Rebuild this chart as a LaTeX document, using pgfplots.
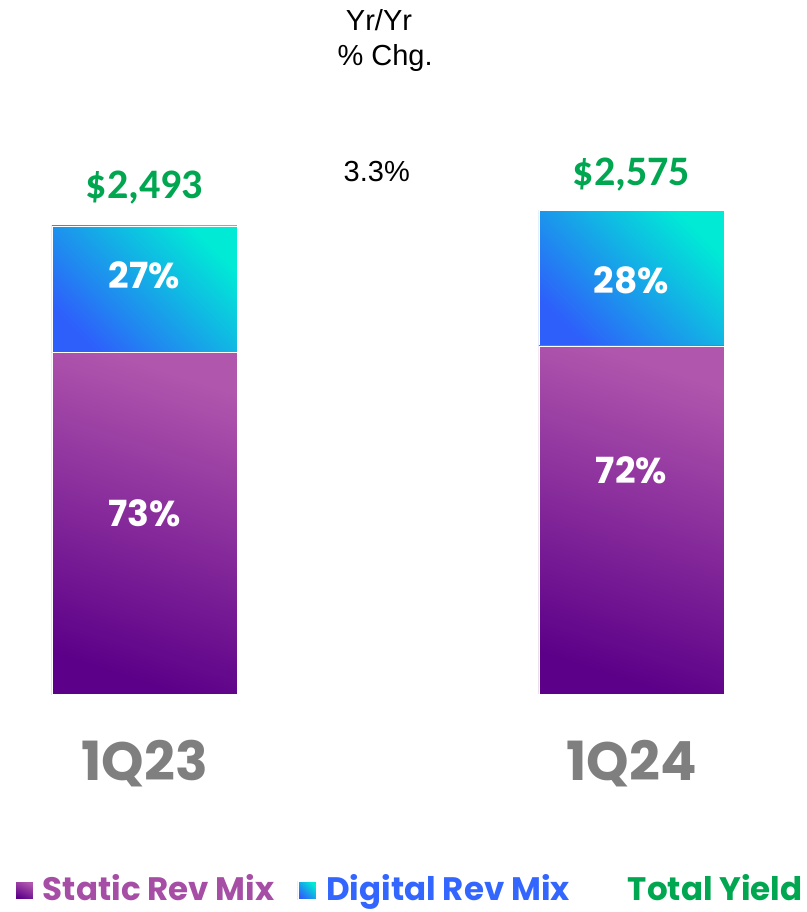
\documentclass[border=0pt]{standalone}
\usepackage{pgfplots}
\pgfplotsset{compat=1.18}
\usepackage{fontspec}
\setmainfont{Poppins}
\newfontfamily\arialf{Liberation Sans}
\newfontfamily\carlf{Carlito}
\definecolor{statD}{HTML}{5C0089}
\definecolor{statL}{HTML}{B156AD}
\definecolor{digD}{HTML}{2E5FFB}
\definecolor{digL}{HTML}{00EAD6}
\definecolor{statTxt}{HTML}{A64DA6}
\definecolor{digTxt}{HTML}{3366FF}
\definecolor{grn}{HTML}{00A650}
\definecolor{gryT}{HTML}{7F7F7F}
\pgfplotsset{
  base/.style={
    at={(0,0)}, anchor=south west, scale only axis,
    width=807bp, height=694bp,
    xmin=-0.2967, xmax=1.3604, ymin=0, ymax=3696.8,
    ybar stacked, bar width=185bp,
    axis line style={draw=none}, major tick length=0pt, ytick=\empty,
    clip=false},
  statstyle/.style={draw=white, line width=0.8pt, bottom color=statD, top color=statL, shading angle=-18},
  digstyle/.style={draw=white, line width=0.8pt, bottom color=digD, top color=digL, shading angle=-45},
}
\begin{document}
\begin{tikzpicture}
\path[use as bounding box] (0,-218bp) rectangle (807bp,694bp);
\begin{axis}[base,
  xtick={0,1}, xticklabels={1Q23,1Q24},
  xticklabel style={font=\fontsize{54bp}{54bp}\selectfont\bfseries, text=gryT, yshift=-43bp},
  legend columns=3,
  legend style={draw=none, fill=none, at={(0.0149,-0.2805)}, anchor=west,
    font=\fontsize{32.5bp}{32.5bp}\selectfont\bfseries,
    /tikz/every even column/.append style={column sep=21bp}},
]
\addplot[statstyle,
  legend image code/.code={\shade[bottom color=statD, top color=statL, shading angle=-25] (0bp,-11bp) rectangle (18bp,7bp);}]
  coordinates {(0,1820)};
\addlegendentry{\hspace*{7bp}\textcolor{statTxt}{Static Rev Mix}}
\addplot[digstyle,
  legend image code/.code={\shade[bottom color=digD, top color=digL, shading angle=-45] (0bp,-11bp) rectangle (18bp,7bp);}]
  coordinates {(0,673)};
\addlegendentry{\hspace*{8bp}\textcolor{digTxt}{Digital Rev Mix}}
\addlegendimage{empty legend}
\addlegendentry{\hspace*{33bp}\textcolor{grn}{Total Yield}}
\coordinate (t1) at (axis cs:0,2493);
\coordinate (t2) at (axis cs:1,2575);
\coordinate (p1) at (axis cs:0,2232);
\coordinate (p2) at (axis cs:0,964);
\coordinate (p3) at (axis cs:1,2205);
\coordinate (p4) at (axis cs:1,1193);
\coordinate (y1) at (axis cs:0.4815,3590);
\coordinate (y2) at (axis cs:0.494,3388);
\coordinate (y3) at (axis cs:0.477,2781);
\end{axis}
\begin{axis}[base, xtick=\empty]
\addplot[statstyle] coordinates {(1,1854)};
\addplot[digstyle] coordinates {(1,721)};
\end{axis}
\node[font=\carlf\fontsize{42bp}{42bp}\selectfont\bfseries, text=grn, yshift=38bp] at (t1) {\$2,493};
\node[font=\carlf\fontsize{42bp}{42bp}\selectfont\bfseries, text=grn, yshift=36bp] at (t2) {\$2,575};
\node[font=\fontsize{36bp}{36bp}\selectfont\bfseries, text=white] at (p1) {27\%};
\node[font=\fontsize{36bp}{36bp}\selectfont\bfseries, text=white] at (p2) {73\%};
\node[font=\fontsize{36bp}{36bp}\selectfont\bfseries, text=white] at (p3) {28\%};
\node[font=\fontsize{36bp}{36bp}\selectfont\bfseries, text=white] at (p4) {72\%};
\node[font=\arialf\fontsize{29bp}{29bp}\selectfont] at (y1) {Yr/Yr};
\node[font=\arialf\fontsize{29bp}{29bp}\selectfont] at (y2) {\% Chg.};
\node[font=\arialf\fontsize{29bp}{29bp}\selectfont] at (y3) {3.3\%};
\end{tikzpicture}
\end{document}
